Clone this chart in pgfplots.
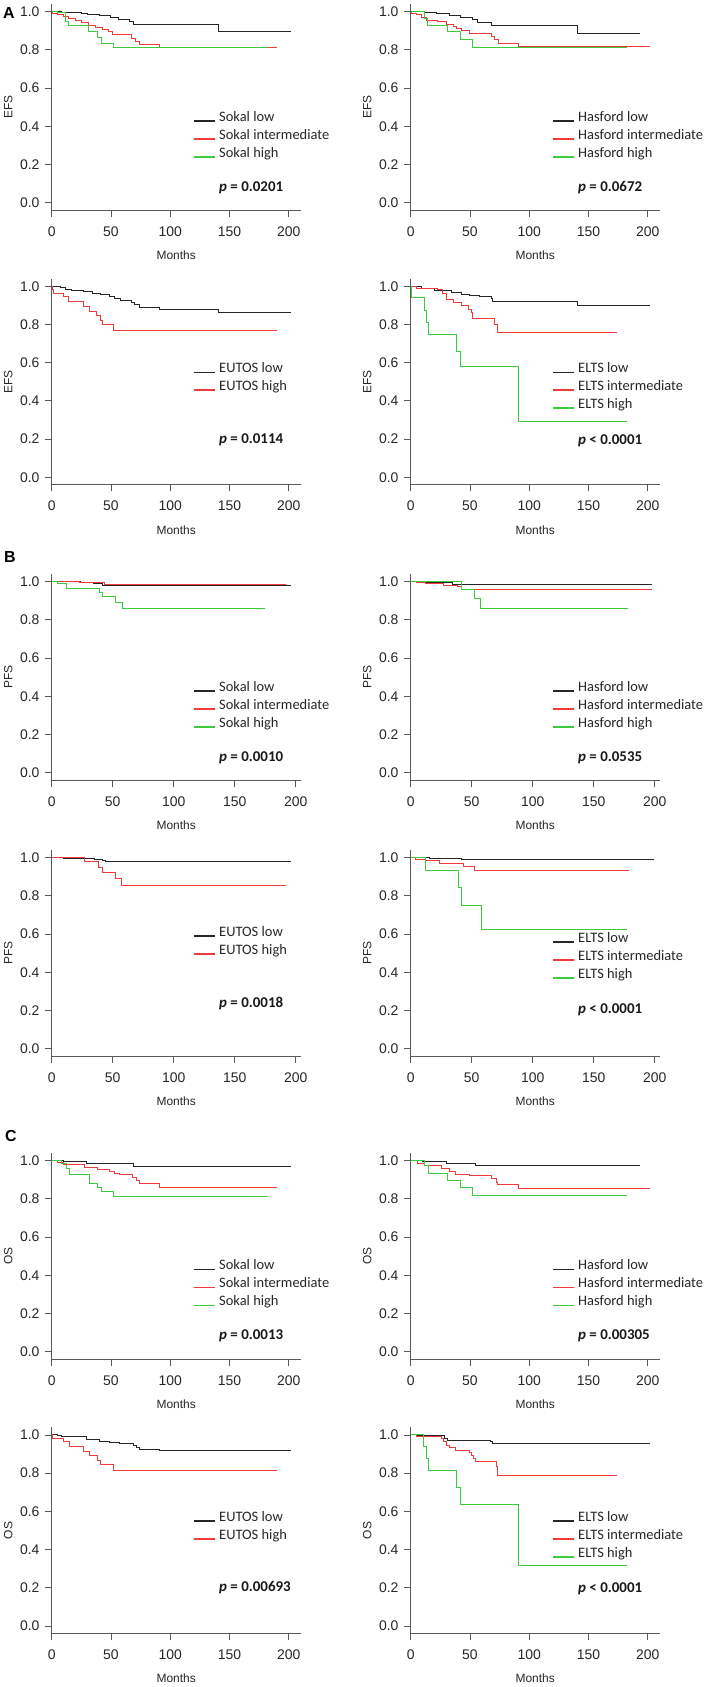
\documentclass[border=0pt]{standalone}
\usepackage{fontspec}
\setmainfont{Liberation Sans}
\newfontfamily\calfont{Carlito}
\usepackage{pgfplots}
\pgfplotsset{compat=1.18}
\definecolor{kmblack}{HTML}{262626}
\definecolor{kmred}{HTML}{F03A3A}
\definecolor{kmgreen}{HTML}{3CCB3C}
\definecolor{axgray}{HTML}{5A5A5A}
\pgfplotsset{
  km/.style={
    scale only axis, width=249bp, height=206.3bp, anchor=south west,
    xmin=0, xmax=210, ymin=-0.04, ymax=1.04,
    axis x line*=bottom, axis y line*=left,
    axis line style={axgray, line width=0.9bp},
    xtick={0,50,100,150,200}, ytick={0,0.2,0.4,0.6,0.8,1},
    tick align=outside, major tick length=6.5bp,
    tick style={axgray, line width=0.9bp},
    /pgf/number format/assume math mode=true,
    yticklabel style={/pgf/number format/fixed, /pgf/number format/fixed zerofill, /pgf/number format/precision=1},
    tick label style={font=\fontsize{14}{15}\selectfont, text=black!85, inner sep=0pt},
    xticklabel shift=9.5bp, yticklabel shift=5.5bp,
    every axis x label/.style={at={(rel axis cs:0.5,-0.218)}, anchor=center, font=\fontsize{12}{13}\selectfont, text=black!85},
    every axis y label/.style={at={(rel axis cs:-0.174,0.5)}, anchor=center, rotate=90, font=\fontsize{12}{13}\selectfont, text=black!85},
    xlabel={Months},
    clip=false,
  },
  kmB/.style={km, xmax=204},
  kmline/.style={const plot, line width=1bp, no marks},
}
\newcommand{\legentry}[3]{%
  \draw[#2, line width=1.5bp] (rel axis cs:0.570,#1) -- (rel axis cs:0.654,#1);
  \node[anchor=base west, inner sep=0pt, font=\calfont\fontsize{14.5}{16}\selectfont, text=black!85] at (rel axis cs:0.672,#1) {#3};}
\newcommand{\pval}[2]{%
  \node[anchor=base west, inner sep=0pt, font=\calfont\bfseries\fontsize{15}{17}\selectfont, text=black!90] at (rel axis cs:0.672,#1) {\textit{p} #2};}
\begin{document}
\begin{tikzpicture}
\useasboundingbox (0bp,0bp) rectangle (709bp,-1687bp);
\node[font=\bfseries\fontsize{16}{16}\selectfont] at (9bp,-13bp) {A};
\node[font=\bfseries\fontsize{16}{16}\selectfont] at (10bp,-557bp) {B};
\node[font=\bfseries\fontsize{16}{16}\selectfont] at (11bp,-1136bp) {C};

% Row 1 left: EFS Sokal
\begin{axis}[km, at={(51.7bp,-210.3bp)}, ylabel={EFS}]
\addplot[kmline, kmblack] coordinates {(0,1)(8,0.995)(25,0.99)(30,0.985)(40,0.978)(50,0.968)(56,0.96)(66,0.95)(69,0.932)(141,0.895)(202,0.895)};
\addplot[kmline, kmred] coordinates {(0,1)(0.5,0.99)(5,0.985)(10,0.975)(14,0.962)(20,0.955)(25,0.942)(31,0.93)(37,0.918)(43,0.908)(48,0.895)(51,0.88)(67,0.862)(71,0.845)(74,0.83)(91,0.81)(190,0.81)};
\addplot[kmline, kmgreen] coordinates {(0,1)(5,0.995)(12,0.95)(14,0.925)(31,0.895)(39,0.865)(42,0.835)(52,0.81)(182,0.81)};
\legentry{0.432}{kmblack}{Sokal low}
\legentry{0.345}{kmred}{Sokal intermediate}
\legentry{0.258}{kmgreen}{Sokal high}
\pval{0.092}{= 0.0201}
\end{axis}

% Row 1 right: EFS Hasford
\begin{axis}[km, at={(410.7bp,-210.3bp)}, ylabel={EFS}]
\addplot[kmline, kmblack] coordinates {(0,1)(12,0.995)(22,0.99)(33,0.98)(42,0.97)(52,0.96)(56,0.945)(68,0.93)(141,0.885)(193,0.885)};
\addplot[kmline, kmred] coordinates {(0,1)(0.5,0.99)(5,0.985)(9,0.97)(13,0.955)(23,0.948)(30,0.935)(36,0.922)(39,0.91)(43,0.9)(50,0.885)(68,0.872)(71,0.855)(74,0.835)(91,0.815)(202,0.815)};
\addplot[kmline, kmgreen] coordinates {(0,1)(12,0.965)(14,0.93)(31,0.895)(42,0.855)(52,0.81)(182,0.81)};
\legentry{0.432}{kmblack}{Hasford low}
\legentry{0.345}{kmred}{Hasford intermediate}
\legentry{0.258}{kmgreen}{Hasford high}
\pval{0.092}{= 0.0672}
\end{axis}

% Row 2 left: EFS EUTOS
\begin{axis}[km, at={(51.7bp,-484.9bp)}, ylabel={EFS}]
\addplot[kmline, kmblack] coordinates {(0,1)(7,0.995)(12,0.985)(17,0.978)(27,0.972)(34,0.963)(41,0.955)(49,0.945)(53,0.935)(58,0.925)(67,0.915)(70,0.905)(74,0.89)(91,0.88)(141,0.86)(202,0.86)};
\addplot[kmline, kmred] coordinates {(0,1)(0.5,0.985)(1.5,0.962)(10,0.945)(14,0.92)(27,0.895)(32,0.87)(38,0.845)(41,0.82)(43,0.8)(52,0.77)(190,0.77)};
\legentry{0.546}{kmblack}{EUTOS low}
\legentry{0.459}{kmred}{EUTOS high}
\pval{0.202}{= 0.0114}
\end{axis}

% Row 2 right: EFS ELTS
\begin{axis}[km, at={(410.7bp,-484.9bp)}, ylabel={EFS}]
\addplot[kmline, kmblack] coordinates {(0,1)(9,0.99)(20,0.98)(34,0.965)(43,0.958)(50,0.95)(58,0.945)(68,0.935)(69,0.92)(141,0.9)(202,0.9)};
\addplot[kmline, kmred] coordinates {(0,1)(5,0.99)(23,0.985)(27,0.96)(30,0.93)(36,0.915)(43,0.9)(49,0.878)(51,0.86)(52,0.83)(71,0.8)(73,0.76)(174,0.76)};
\addplot[kmline, kmgreen] coordinates {(0,1)(0.5,0.94)(12,0.875)(13.5,0.81)(15,0.745)(38.5,0.66)(42,0.58)(91,0.29)(182,0.29)};
\legentry{0.546}{kmblack}{ELTS low}
\legentry{0.459}{kmred}{ELTS intermediate}
\legentry{0.372}{kmgreen}{ELTS high}
\pval{0.198}{< 0.0001}
\end{axis}

% Row 3 left: PFS Sokal
\begin{axis}[kmB, at={(51.7bp,-780.3bp)}, ylabel={PFS}]
\addplot[kmline, kmblack] coordinates {(0,1)(24,0.997)(34,0.99)(42,0.982)(196,0.982)};
\addplot[kmline, kmred] coordinates {(0,1)(23,0.995)(43,0.984)(192,0.984)};
\addplot[kmline, kmgreen] coordinates {(0,1)(5,0.99)(12,0.965)(39,0.945)(42,0.92)(52,0.89)(58,0.857)(175,0.857)};
\legentry{0.432}{kmblack}{Sokal low}
\legentry{0.345}{kmred}{Sokal intermediate}
\legentry{0.258}{kmgreen}{Sokal high}
\pval{0.092}{= 0.0010}
\end{axis}

% Row 3 right: PFS Hasford
\begin{axis}[kmB, at={(410.7bp,-780.3bp)}, ylabel={PFS}]
\addplot[kmline, kmblack] coordinates {(0,1)(10,0.997)(34,0.986)(198,0.986)};
\addplot[kmline, kmred] coordinates {(0,1)(5,0.995)(12,0.99)(27,0.98)(38,0.975)(42,0.96)(198,0.96)};
\addplot[kmline, kmgreen] coordinates {(0,1)(42,0.96)(52,0.914)(57,0.86)(178,0.86)};
\legentry{0.432}{kmblack}{Hasford low}
\legentry{0.345}{kmred}{Hasford intermediate}
\legentry{0.258}{kmgreen}{Hasford high}
\pval{0.092}{= 0.0535}
\end{axis}

% Row 4 left: PFS EUTOS
\begin{axis}[kmB, at={(51.7bp,-1056.3bp)}, ylabel={PFS}]
\addplot[kmline, kmblack] coordinates {(0,1)(10,0.998)(25,0.995)(35,0.99)(42,0.985)(44,0.978)(196,0.978)};
\addplot[kmline, kmred] coordinates {(0,1)(27,0.98)(38,0.95)(42,0.92)(52,0.89)(57,0.853)(192,0.853)};
\legentry{0.582}{kmblack}{EUTOS low}
\legentry{0.495}{kmred}{EUTOS high}
\pval{0.236}{= 0.0018}
\end{axis}

% Row 4 right: PFS ELTS
\begin{axis}[kmB, at={(410.7bp,-1056.3bp)}, ylabel={PFS}]
\addplot[kmline, kmblack] coordinates {(0,1)(15,0.998)(33,0.995)(42,0.988)(199,0.988)};
\addplot[kmline, kmred] coordinates {(0,1)(4,0.99)(12.5,0.985)(23.5,0.97)(43,0.955)(52.5,0.933)(179,0.933)};
\addplot[kmline, kmgreen] coordinates {(0,1)(12.5,0.935)(39.5,0.843)(42,0.75)(58,0.626)(177.5,0.626)};
\legentry{0.553}{kmblack}{ELTS low}
\legentry{0.466}{kmred}{ELTS intermediate}
\legentry{0.379}{kmgreen}{ELTS high}
\pval{0.208}{< 0.0001}
\end{axis}

% Row 5 left: OS Sokal
\begin{axis}[km, at={(51.7bp,-1359.3bp)}, ylabel={OS}]
\addplot[kmline, kmblack] coordinates {(0,1)(10,0.997)(29.5,0.986)(68.7,0.968)(202,0.968)};
\addplot[kmline, kmred] coordinates {(0,1)(5,0.99)(10,0.98)(28,0.965)(39,0.955)(49,0.945)(53,0.932)(57.5,0.925)(68.5,0.91)(71.5,0.895)(74.4,0.88)(91,0.857)(190,0.857)};
\addplot[kmline, kmgreen] coordinates {(0,1)(8.4,0.985)(12.6,0.96)(15,0.925)(32,0.883)(39,0.86)(42,0.838)(52.5,0.81)(182,0.81)};
\legentry{0.435}{kmblack}{Sokal low}
\legentry{0.348}{kmred}{Sokal intermediate}
\legentry{0.261}{kmgreen}{Sokal high}
\pval{0.094}{= 0.0013}
\end{axis}

% Row 5 right: OS Hasford
\begin{axis}[km, at={(410.7bp,-1359.3bp)}, ylabel={OS}]
\addplot[kmline, kmblack] coordinates {(0,1)(10,0.997)(30,0.987)(54.3,0.977)(193,0.977)};
\addplot[kmline, kmred] coordinates {(0,1)(6,0.985)(11.8,0.975)(25.8,0.96)(32.8,0.945)(38,0.93)(49.6,0.921)(68,0.905)(72,0.885)(73.4,0.873)(91,0.853)(202,0.853)};
\addplot[kmline, kmgreen] coordinates {(0,1)(11.8,0.975)(14.6,0.935)(30.8,0.897)(42,0.858)(52.4,0.816)(182,0.816)};
\legentry{0.435}{kmblack}{Hasford low}
\legentry{0.348}{kmred}{Hasford intermediate}
\legentry{0.261}{kmgreen}{Hasford high}
\pval{0.094}{= 0.00305}
\end{axis}

% Row 6 left: OS EUTOS
\begin{axis}[km, at={(51.7bp,-1633.6bp)}, ylabel={OS}]
\addplot[kmline, kmblack] coordinates {(0,1)(5,0.995)(8.4,0.99)(29.5,0.975)(40.7,0.968)(49,0.96)(57.5,0.955)(68.7,0.945)(71.5,0.932)(74,0.925)(91,0.918)(202,0.918)};
\addplot[kmline, kmred] coordinates {(0,1)(1,0.98)(10,0.965)(14.6,0.94)(26.7,0.916)(31.7,0.893)(38.7,0.868)(41.5,0.843)(52.5,0.813)(190,0.813)};
\legentry{0.545}{kmblack}{EUTOS low}
\legentry{0.458}{kmred}{EUTOS high}
\pval{0.202}{= 0.00693}
\end{axis}

% Row 6 right: OS ELTS
\begin{axis}[km, at={(410.7bp,-1633.6bp)}, ylabel={OS}]
\addplot[kmline, kmblack] coordinates {(0,1)(6,0.995)(28.6,0.98)(31,0.972)(67,0.968)(69,0.956)(201.7,0.956)};
\addplot[kmline, kmred] coordinates {(0,1)(4.8,0.99)(26.3,0.98)(28,0.965)(30,0.945)(32.8,0.934)(38,0.92)(49.6,0.91)(51,0.895)(53,0.875)(55,0.86)(72,0.835)(73.4,0.79)(174,0.79)};
\addplot[kmline, kmgreen] coordinates {(0,1)(11.2,0.94)(13,0.875)(15,0.813)(39,0.724)(42,0.634)(90.8,0.316)(182,0.316)};
\legentry{0.545}{kmblack}{ELTS low}
\legentry{0.458}{kmred}{ELTS intermediate}
\legentry{0.371}{kmgreen}{ELTS high}
\pval{0.198}{< 0.0001}
\end{axis}
\end{tikzpicture}
\end{document}
